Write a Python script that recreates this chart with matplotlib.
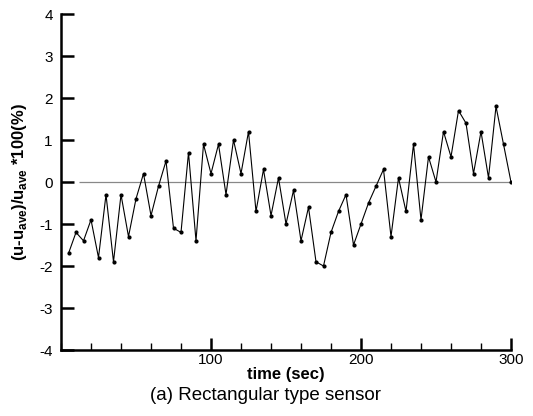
import matplotlib.pyplot as plt
from matplotlib.ticker import FixedLocator, MultipleLocator

plt.rcParams['font.family'] = ['Liberation Sans', 'DejaVu Sans']
plt.rcParams['axes.unicode_minus'] = False

# time (sec) and (u-u_ave)/u_ave*100 (%)
time = [5, 10, 15, 20, 25, 30, 35, 40, 45, 50,
        55, 60, 65, 70, 75, 80, 85, 90, 95, 100,
        105, 110, 115, 120, 125, 130, 135, 140, 145, 150,
        155, 160, 165, 170, 175, 180, 185, 190, 195, 200,
        205, 210, 215, 220, 225, 230, 235, 240, 245, 250,
        255, 260, 265, 270, 275, 280, 285, 290, 295, 300]
deviation = [-1.7, -1.2, -1.4, -0.9, -1.8, -0.3, -1.9, -0.3, -1.3, -0.4,
             0.2, -0.8, -0.1, 0.5, -1.1, -1.2, 0.7, -1.4, 0.9, 0.2,
             0.9, -0.3, 1.0, 0.2, 1.2, -0.7, 0.3, -0.8, 0.1, -1.0,
             -0.2, -1.4, -0.6, -1.9, -2.0, -1.2, -0.7, -0.3, -1.5, -1.0,
             -0.5, -0.1, 0.3, -1.3, 0.1, -0.7, 0.9, -0.9, 0.6, 0.0,
             1.2, 0.6, 1.7, 1.4, 0.2, 1.2, 0.1, 1.8, 0.9, 0.0]
x_major = [100, 200, 300]

fig = plt.figure(figsize=(5.33, 4.16), dpi=100)
ax = fig.add_axes([61 / 533, 1 - 350 / 416, 450 / 533, 336 / 416])

ax.hlines(0, time[0] + 7, time[-1], color='#888888', lw=0.9, zorder=1)
ax.plot(time, deviation, color='black', lw=0.8, marker='o', ms=2.0, zorder=2)

ax.set_xlim(0, 300)
ax.set_ylim(-4, 4)
ax.xaxis.set_major_locator(FixedLocator(x_major))
ax.xaxis.set_minor_locator(MultipleLocator(20))
ax.yaxis.set_major_locator(MultipleLocator(1))

for side in ['top', 'right']:
    ax.spines[side].set_visible(False)
for side in ['left', 'bottom']:
    ax.spines[side].set_linewidth(1.8)

ax.tick_params(which='major', direction='in', length=9, width=1.8, labelsize=11)
ax.tick_params(which='minor', direction='in', length=5, width=1.0)
ax.tick_params(axis='x', pad=2)
ax.tick_params(axis='y', pad=6)

ax.set_xlabel('time (sec)', fontsize=12, fontweight='bold', labelpad=0)
ax.set_ylabel(r'(u-u$_{\mathregular{ave}}$)/u$_{\mathregular{ave}}$ *100(%)',
              fontsize=12, fontweight='bold', labelpad=7)

fig.text(265 / 533, 1 - 395 / 416, '(a) Rectangular type sensor',
         fontsize=13.5, ha='center', va='center')

fig.savefig('out.png', dpi=100)
